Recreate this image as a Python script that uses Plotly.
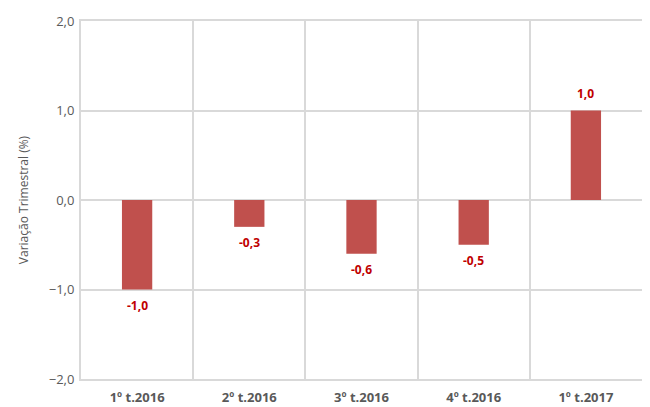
import plotly.graph_objects as go

categories = ["1º t.2016", "2º t.2016", "3º t.2016", "4º t.2016", "1º t.2017"]
values = [-1.0, -0.3, -0.6, -0.5, 1.0]
y_ticks = [-2.0, -1.0, 0.0, 1.0, 2.0]

grid = "#d9d9d9"
font_family = "Open Sans, Noto Sans, sans-serif"

fig = go.Figure(
    go.Bar(
        x=categories,
        y=values,
        marker=dict(color="#C0504D", line=dict(width=0)),
        hoverinfo="x+y",
    )
)

for cat, val in zip(categories, values):
    fig.add_annotation(
        x=cat,
        y=val,
        text=f"{val:.1f}".replace(".", ","),
        showarrow=False,
        yanchor="bottom" if val >= 0 else "top",
        yshift=7 if val >= 0 else -5,
        font=dict(color="#C00000", size=12, family=font_family, weight="bold"),
    )

fig.update_layout(
    width=642,
    height=399,
    margin=dict(l=73, r=8, t=13, b=28),
    plot_bgcolor="white",
    paper_bgcolor="white",
    separators=",.",
    bargap=0.73,
    showlegend=False,
    font=dict(family=font_family, color="#595959"),
)

fig.update_xaxes(
    automargin=False,
    tickson="boundaries",
    showgrid=True,
    gridcolor=grid,
    gridwidth=2,
    showline=True,
    mirror=True,
    linecolor=grid,
    linewidth=2,
    ticks="",
    ticklabelstandoff=5,
    tickfont=dict(size=13, color="#595959", family=font_family, weight="bold"),
    zeroline=False,
)

fig.update_yaxes(
    automargin=False,
    range=[-2.0, 2.0],
    tickvals=y_ticks,
    tickformat=".1f",
    showgrid=True,
    gridcolor=grid,
    gridwidth=2,
    showline=True,
    mirror=True,
    linecolor=grid,
    linewidth=2,
    zeroline=False,
    ticks="outside",
    ticklen=2,
    tickcolor="rgba(0,0,0,0)",
    tickfont=dict(size=13, color="#595959"),
    title=dict(text="Variação Trimestral (%)", font=dict(size=12, color="#595959"), standoff=18),
)

fig.write_html("out.html")
